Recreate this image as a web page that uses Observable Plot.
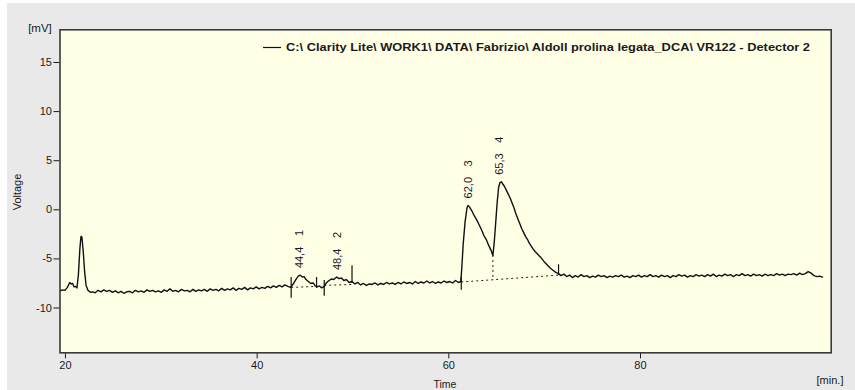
<!DOCTYPE html>
<html><head><meta charset="utf-8">
<script src="https://cdn.jsdelivr.net/npm/d3@7"></script>
<script src="https://cdn.jsdelivr.net/npm/@observablehq/plot@0.6"></script>
<style>
html,body{margin:0;padding:0;background:#fff;}
#wrap{position:relative;width:855px;height:390px;overflow:hidden;}
#bg{position:absolute;left:7px;top:3px;right:0;bottom:0;background:#e9e9e9;}
#chart{position:absolute;left:0;top:0;}
</style></head><body>
<div id="wrap"><div id="bg"></div><div id="chart"></div></div>
<script>
// ---- data (time in min, voltage in mV) ----
const trace = [
[19.45,-8.25],[19.7,-8.15],[19.95,-8.2],[20.2,-7.9],[20.45,-7.4],[20.6,-7.55],[20.75,-7.5],[20.9,-7.85],[21.05,-7.8],[21.2,-7.95],
[21.35,-6.6],[21.5,-4.0],[21.62,-2.7],[21.72,-2.8],[21.85,-4.2],[22.0,-6.3],[22.15,-7.7],[22.35,-8.2],[22.6,-8.4],[22.85,-8.35],[23.1,-8.45],
[23.4,-8.2],[23.7,-8.35],[24.0,-8.15],[24.3,-8.3],[24.6,-8.2],[24.9,-8.4],[25.2,-8.25],[25.5,-8.45],[25.8,-8.3],[26.1,-8.5],
[26.4,-8.35],[26.7,-8.3],[27.0,-8.45],[27.3,-8.2],[27.6,-8.35],[27.9,-8.25],[28.2,-8.4],[28.5,-8.15],[28.8,-8.3],[29.1,-8.2],
[29.4,-8.35],[29.7,-8.25],[30.0,-8.4],[30.3,-8.15],[30.6,-8.3],[30.9,-8.05],[31.2,-8.3],[31.5,-8.2],[31.8,-8.35],[32.1,-8.1],
[32.4,-8.25],[32.7,-8.2],[33.0,-8.35],[33.3,-8.1],[33.6,-8.3],[33.9,-8.15],[34.2,-8.25],[34.5,-8.1],[34.8,-8.3],[35.1,-8.05],
[35.4,-8.2],[35.7,-8.1],[36.0,-8.25],[36.3,-8.0],[36.6,-8.2],[36.9,-8.05],[37.2,-8.15],[37.5,-7.95],[37.8,-8.2],[38.1,-8.0],
[38.4,-8.1],[38.7,-7.9],[39.0,-8.15],[39.3,-7.95],[39.6,-8.05],[39.9,-7.85],[40.2,-8.05],[40.5,-7.9],[40.8,-8.0],[41.1,-7.8],
[41.4,-7.95],[41.7,-7.75],[42.0,-7.9],[42.3,-7.7],[42.6,-7.85],[42.9,-7.65],[43.2,-7.8],[43.5,-7.9],
[43.8,-7.5],[44.1,-7.0],[44.3,-6.75],[44.5,-6.65],[44.7,-6.85],[44.9,-6.8],[45.1,-7.1],[45.35,-7.3],[45.6,-7.5],[45.85,-7.45],
[46.05,-7.75],[46.25,-7.85],[46.5,-7.75],[46.75,-7.95],[47.0,-7.8],
[47.25,-7.4],[47.5,-7.2],[47.75,-7.05],[48.0,-7.1],[48.3,-6.85],[48.55,-7.0],[48.8,-6.95],[49.05,-7.2],[49.3,-7.1],[49.6,-7.4],
[49.9,-7.3],[50.2,-7.55],[50.5,-7.4],
[50.8,-7.65],[51.1,-7.5],[51.4,-7.7],[51.7,-7.55],[52.0,-7.6],[52.3,-7.45],[52.6,-7.65],[52.9,-7.5],[53.2,-7.6],[53.5,-7.4],
[53.8,-7.55],[54.1,-7.45],[54.4,-7.6],[54.7,-7.4],[55.0,-7.55],[55.3,-7.35],[55.6,-7.5],[55.9,-7.4],[56.2,-7.55],[56.5,-7.3],
[56.8,-7.5],[57.1,-7.35],[57.4,-7.45],[57.7,-7.25],[58.0,-7.45],[58.3,-7.3],[58.6,-7.5],[58.9,-7.35],[59.2,-7.45],[59.5,-7.25],
[59.8,-7.4],[60.1,-7.3],[60.4,-7.45],[60.7,-7.2],[61.0,-7.4],[61.25,-7.3],
[61.35,-6.0],[61.5,-3.5],[61.7,-1.2],[61.9,0.2],[62.0,0.45],[62.15,0.3],[62.4,-0.1],[62.65,-0.6],[62.9,-1.0],[63.15,-1.5],
[63.4,-2.0],[63.65,-2.6],[63.9,-3.0],[64.15,-3.6],[64.4,-4.1],[64.6,-4.65],
[64.75,-3.2],[64.9,-1.2],[65.05,0.8],[65.2,2.3],[65.35,2.8],[65.5,2.85],[65.65,2.6],[65.8,2.4],[66.0,2.0],[66.2,1.6],
[66.4,1.2],[66.6,0.7],[66.8,0.2],[67.0,-0.4],[67.2,-0.9],[67.4,-1.4],[67.6,-1.9],[67.8,-2.3],[68.0,-2.7],[68.2,-3.0],
[68.4,-3.4],[68.6,-3.7],[68.8,-4.0],[69.0,-4.25],[69.2,-4.45],[69.4,-4.65],[69.6,-4.85],[69.8,-5.1],[70.0,-5.35],[70.2,-5.55],
[70.4,-5.75],[70.6,-5.95],[70.8,-6.1],[71.0,-6.25],[71.2,-6.4],[71.45,-6.5],[71.7,-6.7],
[72.0,-6.55],[72.3,-6.8],[72.6,-6.65],[72.9,-6.9],[73.2,-6.7],[73.5,-6.85],[73.8,-6.6],[74.1,-6.8],[74.4,-6.7],[74.7,-6.9],
[75.0,-6.75],[75.3,-6.85],[75.6,-6.65],[75.9,-6.8],[76.2,-6.7],[76.5,-6.9],[76.8,-6.75],[77.1,-6.85],[77.4,-6.7],[77.7,-6.8],
[78.0,-6.65],[78.3,-6.85],[78.6,-6.75],[78.9,-6.9],[79.2,-6.7],[79.5,-6.8],[79.8,-6.65],[80.1,-6.85],[80.4,-6.7],[80.7,-6.8],
[81.0,-6.6],[81.3,-6.8],[81.6,-6.7],[81.9,-6.85],[82.2,-6.65],[82.5,-6.8],[82.8,-6.7],[83.1,-6.9],[83.4,-6.7],[83.7,-6.8],
[84.0,-6.6],[84.3,-6.75],[84.6,-6.65],[84.9,-6.85],[85.2,-6.7],[85.5,-6.8],[85.8,-6.6],[86.1,-6.75],[86.4,-6.65],[86.7,-6.8],
[87.0,-6.6],[87.3,-6.75],[87.6,-6.55],[87.9,-6.8],[88.2,-6.65],[88.5,-6.75],[88.8,-6.55],[89.1,-6.7],[89.4,-6.6],[89.7,-6.8],
[90.0,-6.6],[90.3,-6.7],[90.6,-6.5],[90.9,-6.7],[91.2,-6.6],[91.5,-6.75],[91.8,-6.55],[92.1,-6.7],[92.4,-6.6],[92.7,-6.75],
[93.0,-6.55],[93.3,-6.7],[93.6,-6.6],[93.9,-6.7],[94.2,-6.5],[94.5,-6.65],[94.8,-6.55],[95.1,-6.7],[95.4,-6.55],[95.7,-6.6],
[96.0,-6.5],[96.3,-6.65],[96.6,-6.45],[96.9,-6.6],[97.2,-6.5],[97.5,-6.3],[97.8,-6.45],[98.1,-6.7],[98.4,-6.8],[98.7,-6.75],[99.0,-6.85]
];

// peaks: retention time label, number, apex
const peakTimes   = [44.4, 48.4, 62.0, 65.3];
const peakApex    = [-6.65, -6.85, 0.45, 2.85];
const peakLabels  = ["44,4", "48,4", "62,0", "65,3"];
const peakNumbers = ["1", "2", "3", "4"];

// integration markers (vertical ticks at peak start / end)
const markerTime   = [43.55, 46.2, 47.0, 49.9, 61.3, 71.45];
const markerTop    = [-6.9, -6.9, -7.2, -5.7, -6.9, -5.6];
const markerBottom = [-9.0, -8.0, -8.8, -7.5, -8.2, -6.7];

// dotted integration baselines
const baseT1 = [43.55, 47.0, 61.3];
const baseV1 = [-7.9, -7.7, -7.35];
const baseT2 = [46.2, 49.9, 71.45];
const baseV2 = [-7.8, -7.6, -6.65];

// drop line separating peaks 3 and 4
const dropTime = [64.6];
const dropTop = [-4.65];
const dropBottom = [-7.12];

const xTicks = [20, 40, 60, 80];
const yTicks = [-10, -5, 0, 5, 10, 15];
const legendText = "C:\\ Clarity Lite\\ WORK1\\ DATA\\ Fabrizio\\ Aldoll prolina legata_DCA\\ VR122 - Detector 2";

// ---- build tables ----
const traceData = trace.map(([t, v]) => ({t, v}));
const peaks = peakTimes.map((t, i) => ({t, v: peakApex[i], label: peakLabels[i], num: peakNumbers[i]}));
const markers = markerTime.map((t, i) => ({t, y1: markerTop[i], y2: markerBottom[i]}));
const bases = baseT1.map((t, i) => ({x1: t, y1: baseV1[i], x2: baseT2[i], y2: baseV2[i]}));
const drops = dropTime.map((t, i) => ({t, y1: dropTop[i], y2: dropBottom[i]}));

const sans = "'Liberation Sans',Arial,sans-serif";

const plot = Plot.plot({
  width: 855, height: 390,
  marginLeft: 59.5, marginRight: 24.3, marginTop: 29.3, marginBottom: 37.7,
  style: {background: "transparent", fontFamily: sans, fontSize: "11px", color: "#1a1a1a"},
  x: {domain: [19.43, 99.9], ticks: xTicks, tickSize: 6, tickPadding: 2, tickFormat: d => String(d), label: null},
  y: {domain: [-14.56, 18.33], ticks: yTicks, tickSize: 6, tickPadding: 2, tickFormat: d => String(d), label: null},
  marks: [
    Plot.frame({fill: "#ffffe6"}),
    Plot.link(bases, {x1: "x1", y1: "y1", x2: "x2", y2: "y2", stroke: "#222", strokeWidth: 1, strokeDasharray: "2,3"}),
    Plot.ruleX(drops, {x: "t", y1: "y1", y2: "y2", stroke: "#222", strokeWidth: 1, strokeDasharray: "2,3"}),
    Plot.line(traceData, {x: "t", y: "v", stroke: "#111", strokeWidth: 1.4}),
    Plot.ruleX(markers, {x: "t", y1: "y1", y2: "y2", stroke: "#111", strokeWidth: 1.2}),
    Plot.text(peaks, {x: "t", y: "v", text: "label", rotate: -90, textAnchor: "start", dy: -7, fontSize: 11, fill: "#1a1a1a"}),
    Plot.text(peaks, {x: "t", y: "v", text: "num", rotate: -90, textAnchor: "start", dy: -39, fontSize: 11, fill: "#1a1a1a"}),
    Plot.frame({stroke: "#3a3a3a", strokeWidth: 1.6})
  ]
});
document.getElementById("chart").appendChild(plot);

// legend and axis titles
const svg = d3.select(plot);
svg.append("line").attr("x1", 263).attr("x2", 281).attr("y1", 47.5).attr("y2", 47.5)
  .attr("stroke", "#111").attr("stroke-width", 1.2);
svg.append("text").attr("x", 286).attr("y", 51).attr("text-anchor", "start").text(legendText)
  .attr("font-family", sans).attr("font-weight", "bold")
  .attr("font-size", 10.5).attr("fill", "#1a1a1a")
  .attr("textLength", 524).attr("lengthAdjust", "spacingAndGlyphs");
svg.append("text").attr("x", 40).attr("y", 32).attr("text-anchor", "middle").text("[mV]")
  .attr("font-family", sans).attr("font-size", 11.5).attr("fill", "#1a1a1a");
svg.append("text").attr("transform", "translate(21,192) rotate(-90)").attr("text-anchor", "middle").text("Voltage")
  .attr("font-family", sans).attr("font-size", 11).attr("fill", "#1a1a1a");
svg.append("text").attr("x", 445).attr("y", 388).attr("text-anchor", "middle").text("Time")
  .attr("font-family", sans).attr("font-size", 10.5).attr("fill", "#1a1a1a");
svg.append("text").attr("x", 830).attr("y", 384).attr("text-anchor", "middle").text("[min.]")
  .attr("font-family", sans).attr("font-size", 11).attr("fill", "#1a1a1a");
</script>
</body></html>
